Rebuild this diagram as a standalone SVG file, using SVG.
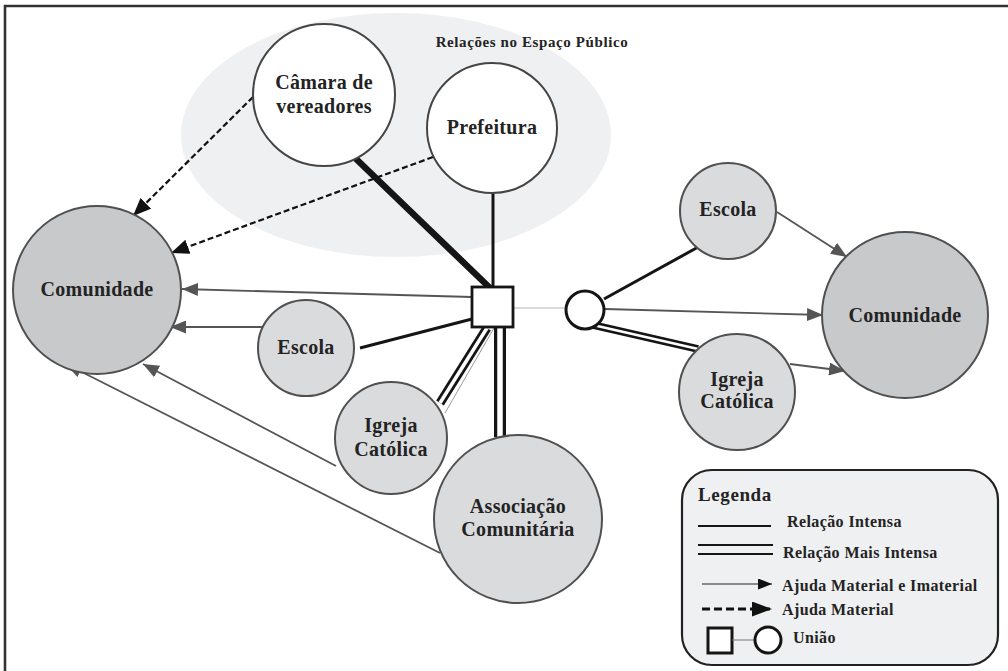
<svg xmlns="http://www.w3.org/2000/svg" width="1008" height="671" viewBox="0 0 1008 671">
  <style>
    text { font-family: "Liberation Serif", "Times New Roman", serif; font-weight: bold; fill: #232323; }
    .lbl { font-size: 20px; letter-spacing: 0.3px; text-anchor: middle; }
    .leg { font-size: 16px; letter-spacing: 0.4px; }
    .node-a { fill: #dadbdd; stroke: #505050; stroke-width: 2; }
    .node-c { fill: #c8c9cb; stroke: #505050; stroke-width: 2; }
    .node-w { fill: #ffffff; stroke: #454545; stroke-width: 2; }
    .help { stroke: #555555; stroke-width: 1.8; fill: none; marker-end: url(#ahGray); }
    .mat { stroke: #111111; stroke-width: 2.2; stroke-dasharray: 6 3; fill: none; marker-end: url(#ahBlack); }
    .rel { stroke: #151515; stroke-width: 3; fill: none; }
    .dbl-out { stroke: #151515; fill: none; }
    .dbl-in { stroke: #ffffff; fill: none; }
  </style>
  <defs>
    <marker id="ahGray" markerUnits="userSpaceOnUse" markerWidth="17" markerHeight="13" refX="16" refY="6.5" orient="auto">
      <path d="M0,0 L16,6.5 L0,13 z" fill="#555555"/>
    </marker>
    <marker id="ahBlack" markerUnits="userSpaceOnUse" markerWidth="19" markerHeight="15" refX="18" refY="7.5" orient="auto">
      <path d="M0,0 L18,7.5 L0,15 z" fill="#111111"/>
    </marker>
    <marker id="legThin" markerUnits="userSpaceOnUse" markerWidth="15" markerHeight="11" refX="14" refY="5.5" orient="auto">
      <path d="M0,0 L14,5.5 L0,11 z" fill="#111111"/>
    </marker>
    <marker id="legDash" markerUnits="userSpaceOnUse" markerWidth="21" markerHeight="15" refX="20" refY="7.5" orient="auto">
      <path d="M0,0 L20,7.5 L0,15 z" fill="#111111"/>
    </marker>
  </defs>

  <rect x="0" y="0" width="1008" height="671" fill="#ffffff"/>
  <!-- page frame -->
  <path d="M5,671 L5,6 L1008,6" fill="none" stroke="#333333" stroke-width="2.6"/>

  <!-- public-space area -->
  <g id="espaco-publico">
    <ellipse cx="396" cy="135" rx="215" ry="122" fill="#eff0f2"/>
    <text x="532" y="47" style="font-size:15px;letter-spacing:0.6px;text-anchor:middle">Relações no Espaço Público</text>
  </g>

  <!-- connectors -->
  <g id="connectors">
    <line class="mat" x1="253" y1="97" x2="133" y2="216"/>
    <line class="mat" x1="433" y1="157" x2="171" y2="253"/>
    <line x1="352" y1="155" x2="490" y2="288" stroke="#151515" stroke-width="6.5"/>
    <line class="rel" x1="493" y1="190" x2="493" y2="288" stroke-width="2"/>
    <line class="help" x1="472" y1="297" x2="182" y2="289"/>
    <line class="help" x1="262" y1="327" x2="170" y2="327"/>
    <line class="rel" x1="360" y1="348" x2="472" y2="319"/>
    <line class="dbl-out" x1="440" y1="403" x2="487" y2="328" stroke-width="9"/>
    <line class="dbl-in" x1="440" y1="403" x2="487" y2="328" stroke-width="3.5"/>
    <line x1="445" y1="413" x2="494" y2="328" stroke="#9a9a9a" stroke-width="1"/>
    <line class="dbl-out" x1="500" y1="327" x2="500" y2="437" stroke-width="12"/>
    <line class="dbl-in" x1="500" y1="327" x2="500" y2="437" stroke-width="5.5"/>
    <line class="help" x1="336" y1="466" x2="143" y2="364"/>
    <line class="help" x1="440" y1="553" x2="66" y2="364"/>
    <line x1="513" y1="308" x2="566" y2="308" stroke="#b5b5b5" stroke-width="1.2"/>
    <line class="rel" x1="604" y1="299" x2="700" y2="246"/>
    <line class="help" x1="605" y1="309" x2="823" y2="315"/>
    <line class="dbl-out" x1="593" y1="325" x2="698" y2="349" stroke-width="7.5"/>
    <line class="dbl-in" x1="593" y1="325" x2="698" y2="349" stroke-width="2.5"/>
    <line class="help" x1="777" y1="212" x2="847" y2="257"/>
    <line class="help" x1="790" y1="364" x2="845" y2="371"/>
  </g>

  <!-- nodes -->
  <g id="camara">
    <circle class="node-w" cx="324" cy="95" r="71"/>
    <text class="lbl" x="324" y="89">Câmara de</text>
    <text class="lbl" x="324" y="113">vereadores</text>
  </g>
  <g id="prefeitura">
    <circle class="node-w" cx="492" cy="128" r="65"/>
    <text class="lbl" x="492" y="134">Prefeitura</text>
  </g>
  <g id="comunidade-esq">
    <circle class="node-c" cx="97" cy="290" r="84"/>
    <text class="lbl" x="97" y="296">Comunidade</text>
  </g>
  <g id="escola-esq">
    <circle class="node-a" cx="306" cy="348" r="48"/>
    <text class="lbl" x="306" y="354">Escola</text>
  </g>
  <g id="igreja-esq">
    <circle class="node-a" cx="391" cy="438" r="56" stroke="#1e1e1e"/>
    <text class="lbl" x="391" y="432">Igreja</text>
    <text class="lbl" x="391" y="456">Católica</text>
  </g>
  <g id="associacao">
    <circle class="node-a" cx="518" cy="519" r="84"/>
    <text class="lbl" x="518" y="513">Associação</text>
    <text class="lbl" x="518" y="536">Comunitária</text>
  </g>
  <g id="uniao-quadrado">
    <rect x="472" y="287" width="41" height="40" fill="#ffffff" stroke="#151515" stroke-width="2.8"/>
  </g>
  <g id="uniao-circulo">
    <circle cx="585" cy="310" r="19" fill="#ffffff" stroke="#151515" stroke-width="3"/>
  </g>
  <g id="escola-dir">
    <circle class="node-a" cx="728" cy="211" r="48"/>
    <text class="lbl" x="728" y="216">Escola</text>
  </g>
  <g id="igreja-dir">
    <circle class="node-a" cx="737" cy="392" r="58"/>
    <text class="lbl" x="737" y="386">Igreja</text>
    <text class="lbl" x="737" y="408">Católica</text>
  </g>
  <g id="comunidade-dir">
    <circle class="node-c" cx="905" cy="315" r="83"/>
    <text class="lbl" x="905" y="322">Comunidade</text>
  </g>

  <!-- legend -->
  <g id="legenda">
    <rect x="682" y="470" width="316" height="195" rx="30" ry="30" fill="#eff0f2" stroke="#222222" stroke-width="2.2"/>
    <text x="698" y="501" style="font-size:19px;letter-spacing:0.6px">Legenda</text>
    <line x1="698" y1="526" x2="771" y2="526" stroke="#151515" stroke-width="2.2"/>
    <text class="leg" x="787" y="527">Relação Intensa</text>
    <line x1="698" y1="545" x2="773" y2="545" stroke="#151515" stroke-width="2.2"/>
    <line x1="698" y1="554" x2="773" y2="554" stroke="#151515" stroke-width="2.2"/>
    <text class="leg" x="783" y="558">Relação Mais Intensa</text>
    <line x1="702" y1="584" x2="772" y2="584" stroke="#222222" stroke-width="1" marker-end="url(#legThin)"/>
    <text class="leg" x="782" y="591">Ajuda Material e Imaterial</text>
    <line x1="702" y1="609" x2="772" y2="609" stroke="#111111" stroke-width="3" stroke-dasharray="8 4" marker-end="url(#legDash)"/>
    <text class="leg" x="782" y="615">Ajuda Material</text>
    <rect x="708" y="628" width="24" height="25" fill="#ffffff" stroke="#151515" stroke-width="3"/>
    <line x1="732" y1="640" x2="755" y2="640" stroke="#777777" stroke-width="1"/>
    <circle cx="768" cy="640" r="13" fill="#ffffff" stroke="#151515" stroke-width="3"/>
    <text class="leg" x="793" y="643">União</text>
  </g>
</svg>
